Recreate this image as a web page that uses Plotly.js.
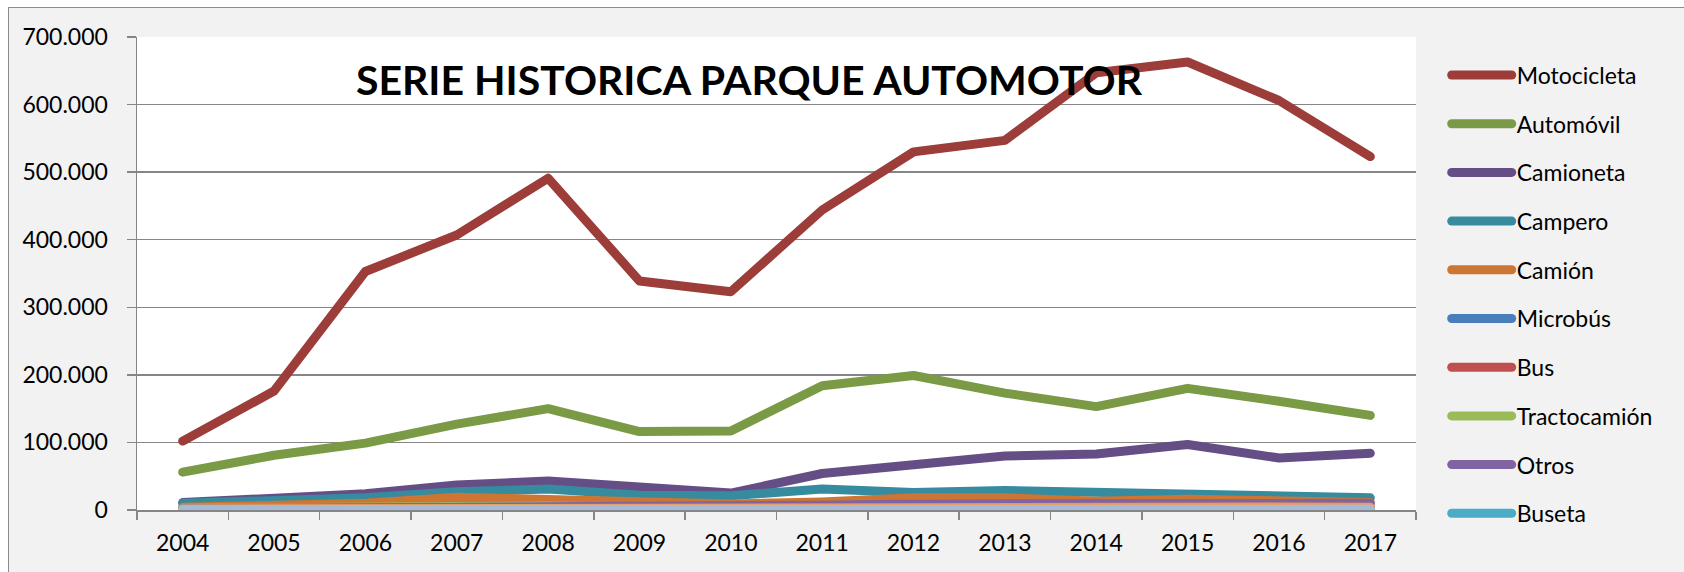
<!DOCTYPE html>
<html>
<head>
<meta charset="utf-8">
<script src="https://cdn.plot.ly/plotly-3.0.1.min.js"></script>
<style>
  html, body { margin: 0; padding: 0; background: #ffffff; }
  #frame { position: absolute; left: 8px; top: 7px; width: 1676px; height: 565px;
           border-left: 1px solid #8c8c8c; border-top: 1px solid #8c8c8c; background: #f2f2f2; }
  #chart { width: 1675px; height: 564px; }
  #chart .js-line { stroke-linecap: round; stroke-linejoin: round; }
  #chart .legendlines path { stroke-linecap: round; }
</style>
</head>
<body>
<div id="frame"><div id="chart"></div></div>
<script>
const years = ["2004","2005","2006","2007","2008","2009","2010","2011","2012","2013","2014","2015","2016","2017"];

const motocicleta = [102000,176000,353000,407000,491000,339000,323000,444000,530000,547000,647000,663000,606000,523000];
const automovil   = [56000,81000,99000,127000,150000,116000,117000,184000,199000,173000,153000,180000,161000,140000];
const camioneta   = [11000,17000,24000,37000,43000,34000,25000,54000,66000,80000,83000,97000,77000,84000];
const campero     = [10000,14000,18000,27000,31000,22000,21000,31000,26000,29000,26000,23000,18000,18000];
const camion      = [4000,7000,10000,19000,16000,12000,9000,12000,18000,18000,13000,16000,12000,11000];
const microbus    = [1500,1800,2000,2500,2700,2500,2400,3000,3500,3600,3500,3800,3500,3400];
const bus         = [1200,1400,1600,2000,2200,2000,1900,2300,2600,2700,2600,2800,2600,2500];
const tractocamion= [2500,3000,4000,7000,6000,4000,3500,5000,9000,8000,6000,7000,5000,4500];
const otros       = [2000,2500,3000,4000,4500,4000,3500,7000,9000,9500,9000,10000,10000,10000];
const buseta      = [1500,1600,1800,2200,2400,2200,2100,2500,2800,2900,2800,3000,2800,2700];
const serie11     = [1500,2000,2500,3000,3500,3000,2800,3500,4500,5000,4500,5000,4500,4000];
const serie12     = [800,900,1000,1100,1200,1100,1100,1200,1300,1300,1300,1400,1300,1300];

const seriesNames = ["Motocicleta","Automóvil","Camioneta","Campero","Camión","Microbús","Bus","Tractocamión","Otros","Buseta","Serie 11","Serie 12"];
const seriesData  = [motocicleta,automovil,camioneta,campero,camion,microbus,bus,tractocamion,otros,buseta,serie11,serie12];
const seriesColors = ["#9c3d3a","#7a9a45","#654e86","#368b9f","#cd7532","#4a7ebb","#c0504d","#9bbb59","#8064a2","#4bacc6","#f79646","#a6b9d6"];
const inLegend = [true,true,true,true,true,true,true,true,true,true,false,false];

const traces = seriesNames.map((n, i) => ({
  type: "scatter", mode: "lines", name: n, x: years, y: seriesData[i],
  line: { color: seriesColors[i], width: 9 },
  legendgroup: "g" + i, showlegend: inLegend[i]
}));

const layout = {
  width: 1675, height: 564,
  margin: { l: 128, r: 268, t: 29, b: 62 },
  paper_bgcolor: "#f2f2f2", plot_bgcolor: "#ffffff",
  separators: ",.",
  font: { family: "Lato, 'Open Sans', sans-serif", size: 23, color: "#000000" },
  title: { text: "<b>SERIE HISTORICA PARQUE AUTOMOTOR</b>", font: { family: "Lato, sans-serif", size: 41, color: "#000000" },
           xref: "paper", x: 0.4785, xanchor: "center", yref: "container", y: 0.872, yanchor: "middle" },
  xaxis: { type: "category", range: [-0.5, 13.5], tickson: "boundaries", ticks: "outside", ticklen: 8, tickcolor: "#868686", tickwidth: 1.5,
           showline: true, linecolor: "#868686", linewidth: 1.5, showgrid: false, zeroline: false,
           ticklabelstandoff: 12, tickfont: { size: 23 } },
  yaxis: { range: [0, 700000], dtick: 100000, tickformat: ",d", ticks: "outside", ticklen: 9, tickcolor: "#868686", tickwidth: 1.5,
           showline: true, linecolor: "#868686", linewidth: 1.5, showgrid: true, gridcolor: "#868686", gridwidth: 1.5,
           zeroline: false, ticklabelstandoff: 14, tickfont: { size: 23 } },
  legend: { x: 1.024, xanchor: "left", y: 0.965, yanchor: "top", bgcolor: "rgba(0,0,0,0)", itemwidth: 60,
            traceorder: "grouped", tracegroupgap: 15.8, font: { size: 23 } },
  showlegend: true
};

Plotly.newPlot("chart", traces, layout, { displayModeBar: false, staticPlot: true });
</script>
</body>
</html>
